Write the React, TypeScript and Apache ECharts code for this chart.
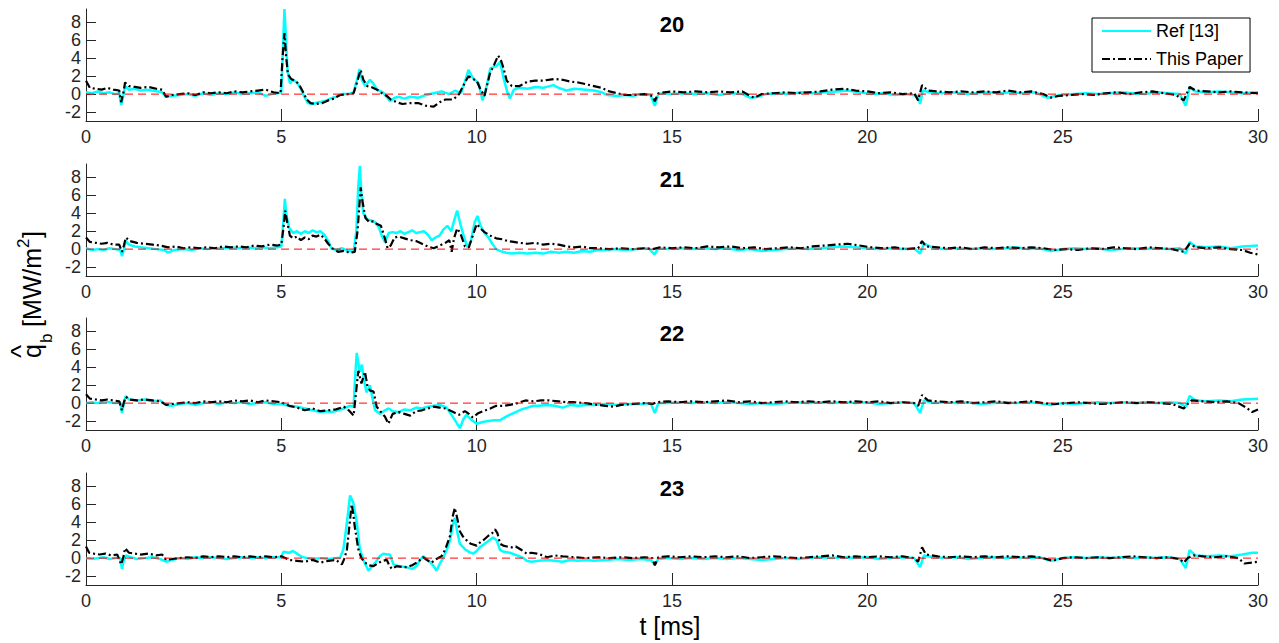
import React, { useEffect, useRef } from "react";
import * as echarts from "echarts";

// ---------- data (t [ms], q_b [MW/m^2]) ----------
const panelTitles = ["20", "21", "22", "23"];
const xTicks = [0, 5, 10, 15, 20, 25, 30];
const yTicks = [-2, 0, 2, 4, 6, 8];
const zeroLine = [[0, 0], [30, 0]];

const ref20 = [[0,0.2],[0.15,0.1],[0.3,0.3],[0.45,0.1],[0.6,0.2],[0.75,0.0],[0.85,0.1],[0.9,-1.2],[0.95,-0.3],[1.0,0.9],[1.1,0.5],[1.25,0.6],[1.4,0.4],[1.55,0.5],[1.7,0.4],[1.85,0.3],[1.95,0.2],[2.05,-0.3],[2.2,-0.2],[2.4,-0.1],[2.6,0.0],[2.8,-0.2],[3.0,0.1],[3.2,-0.1],[3.4,0.1],[3.6,0.0],[3.8,0.2],[4.0,0.0],[4.2,0.1],[4.4,0.2],[4.6,-0.2],[4.75,0.0],[4.9,0.1],[5.0,0.2],[5.04,5.0],[5.08,9.5],[5.12,6.0],[5.16,2.5],[5.22,1.2],[5.3,1.6],[5.4,1.3],[5.5,0.6],[5.58,-0.2],[5.68,-1.0],[5.8,-1.1],[5.95,-0.9],[6.1,-0.8],[6.25,-0.5],[6.4,-0.3],[6.55,0.0],[6.7,0.0],[6.85,0.2],[6.95,1.8],[7.0,2.8],[7.07,1.5],[7.15,0.9],[7.27,1.6],[7.35,1.2],[7.45,0.5],[7.6,0.2],[7.7,-0.3],[7.78,-0.8],[7.9,-0.4],[8.0,-0.3],[8.15,-0.5],[8.3,-0.3],[8.5,-0.4],[8.7,-0.1],[8.9,0.1],[9.1,0.3],[9.3,0.0],[9.45,0.4],[9.6,0.1],[9.7,1.4],[9.79,2.7],[9.9,1.8],[10.05,1.2],[10.15,-0.7],[10.25,0.8],[10.35,2.9],[10.5,3.1],[10.6,3.6],[10.7,1.6],[10.78,0.3],[10.85,-0.5],[10.95,0.5],[11.1,0.7],[11.3,0.6],[11.5,0.8],[11.7,0.7],[11.96,1.0],[12.1,0.7],[12.3,0.4],[12.5,0.6],[12.8,0.5],[13.0,0.4],[13.2,0.2],[13.35,-0.1],[13.6,-0.2],[13.8,-0.1],[14.0,-0.2],[14.2,0.0],[14.45,-0.1],[14.56,-1.3],[14.65,0.0],[14.8,0.1],[15.0,0.0],[15.3,0.1],[15.6,0.0],[15.9,0.1],[16.2,-0.1],[16.5,0.1],[16.8,0.0],[17.0,-0.4],[17.2,-0.3],[17.4,0.0],[17.7,0.1],[18.0,0.0],[18.3,0.2],[18.6,0.1],[18.9,0.2],[19.2,0.3],[19.5,0.4],[19.8,0.2],[20.1,0.0],[20.4,0.1],[20.7,-0.1],[21.0,0.0],[21.3,-0.2],[21.35,-1.1],[21.42,0.4],[21.6,0.2],[21.9,0.1],[22.2,0.2],[22.5,0.0],[22.8,0.1],[23.1,0.2],[23.4,0.1],[23.7,0.2],[24.0,0.1],[24.3,0.2],[24.6,-0.4],[24.8,-0.2],[25.0,-0.1],[25.3,0.0],[25.6,0.1],[25.9,0.0],[26.2,0.1],[26.5,0.2],[26.8,0.1],[27.1,0.0],[27.4,0.2],[27.7,0.1],[28.0,0.0],[28.15,-1.3],[28.25,0.8],[28.4,0.3],[28.7,0.2],[29.0,0.3],[29.3,0.2],[29.6,0.1],[30.0,0.2]];
const pap20 = [[0,1.5],[0.1,0.7],[0.25,0.6],[0.4,0.5],[0.55,0.7],[0.7,0.5],[0.85,0.4],[0.9,-0.9],[0.96,0.2],[1.0,1.3],[1.1,0.9],[1.25,0.8],[1.4,0.7],[1.6,0.8],[1.8,0.6],[1.95,0.5],[2.05,-0.3],[2.2,-0.1],[2.4,0.0],[2.6,0.1],[2.8,-0.1],[3.0,0.2],[3.2,0.1],[3.4,0.2],[3.6,0.1],[3.8,0.3],[4.0,0.2],[4.2,0.3],[4.4,0.4],[4.6,0.5],[4.8,0.2],[4.98,0.1],[5.03,4.0],[5.08,6.8],[5.12,4.3],[5.17,2.2],[5.25,1.7],[5.35,1.5],[5.45,1.1],[5.55,0.3],[5.65,-0.6],[5.75,-1.0],[5.9,-1.1],[6.05,-1.0],[6.2,-0.7],[6.35,-0.5],[6.5,-0.1],[6.7,0.0],[6.85,0.1],[6.95,1.5],[7.03,2.7],[7.1,1.6],[7.2,0.9],[7.3,0.8],[7.45,0.5],[7.6,0.0],[7.7,-0.2],[7.8,-0.6],[7.95,-0.9],[8.1,-1.1],[8.3,-1.0],[8.5,-1.0],[8.7,-1.3],[8.9,-1.4],[9.05,-0.9],[9.2,-0.6],[9.4,-0.6],[9.55,0.0],[9.7,1.3],[9.79,2.0],[9.9,1.7],[10.0,1.5],[10.1,0.5],[10.2,-0.2],[10.34,2.3],[10.45,3.3],[10.55,4.3],[10.62,3.8],[10.68,3.0],[10.77,1.5],[10.9,0.9],[11.1,0.9],[11.3,1.4],[11.5,1.5],[11.7,1.5],[12.0,1.7],[12.2,1.6],[12.4,1.4],[12.6,1.3],[12.8,1.1],[13.0,0.9],[13.2,0.7],[13.4,0.3],[13.6,0.1],[13.8,-0.1],[14.0,-0.1],[14.3,0.0],[14.5,-0.2],[14.56,-0.8],[14.65,0.1],[14.8,0.2],[15.0,0.3],[15.3,0.2],[15.6,0.3],[15.9,0.2],[16.2,0.3],[16.5,0.2],[16.8,0.3],[17.0,-0.2],[17.1,-0.4],[17.3,0.0],[17.6,0.1],[17.9,0.2],[18.2,0.1],[18.5,0.2],[18.8,0.3],[19.1,0.5],[19.4,0.6],[19.7,0.4],[20.0,0.3],[20.3,0.1],[20.6,0.2],[20.9,0.0],[21.2,0.1],[21.3,-0.7],[21.4,1.0],[21.55,0.4],[21.8,0.3],[22.1,0.2],[22.4,0.3],[22.7,0.2],[23.0,0.3],[23.3,0.2],[23.6,0.4],[23.9,0.2],[24.2,0.3],[24.5,0.0],[24.7,-0.4],[24.9,-0.2],[25.2,-0.1],[25.5,0.0],[25.8,-0.1],[26.1,0.1],[26.4,0.2],[26.7,0.0],[27.0,0.2],[27.3,0.3],[27.6,0.1],[27.9,-0.1],[28.1,-0.7],[28.25,0.8],[28.4,0.4],[28.7,0.3],[29.0,0.2],[29.3,0.3],[29.6,0.2],[30.0,0.1]];

const ref21 = [[0,0.1],[0.15,-0.1],[0.3,0.0],[0.45,-0.1],[0.6,0.1],[0.75,0.0],[0.88,-0.1],[0.92,-0.8],[0.97,0.0],[1.02,0.9],[1.1,0.5],[1.25,0.3],[1.4,0.2],[1.6,0.1],[1.8,0.0],[2.0,-0.1],[2.1,-0.4],[2.25,-0.1],[2.5,0.0],[2.7,-0.1],[2.9,0.1],[3.1,0.0],[3.3,0.1],[3.5,0.1],[3.7,0.2],[3.9,0.1],[4.1,0.2],[4.3,0.1],[4.5,0.2],[4.7,0.1],[4.9,0.2],[5.0,0.3],[5.05,3.0],[5.09,5.6],[5.13,3.8],[5.2,2.4],[5.3,1.8],[5.4,2.0],[5.5,1.7],[5.6,2.0],[5.7,1.8],[5.8,2.1],[5.9,1.9],[6.0,2.0],[6.1,1.6],[6.2,0.9],[6.28,0.1],[6.4,-0.1],[6.55,0.1],[6.7,-0.2],[6.85,-0.3],[6.92,2.0],[6.97,7.0],[7.01,9.3],[7.05,6.0],[7.1,4.0],[7.2,3.3],[7.3,3.2],[7.4,3.0],[7.5,2.4],[7.57,1.5],[7.65,0.8],[7.75,1.8],[7.85,1.9],[7.95,1.8],[8.05,2.0],[8.15,1.7],[8.25,1.9],[8.35,2.1],[8.45,1.8],[8.55,1.9],[8.65,2.0],[8.75,1.6],[8.85,1.0],[8.95,1.3],[9.05,1.5],[9.15,2.2],[9.25,2.6],[9.35,2.0],[9.43,3.3],[9.5,4.3],[9.6,2.5],[9.7,1.0],[9.77,0.2],[9.85,0.9],[9.95,3.0],[10.02,3.7],[10.1,2.6],[10.2,1.8],[10.3,1.3],[10.4,0.6],[10.5,0.0],[10.6,-0.2],[10.75,-0.4],[10.9,-0.5],[11.1,-0.4],[11.3,-0.5],[11.5,-0.4],[11.7,-0.5],[11.9,-0.3],[12.1,-0.4],[12.3,-0.3],[12.5,-0.4],[12.7,-0.2],[12.9,-0.3],[13.1,-0.1],[13.3,-0.1],[13.5,0.0],[13.8,-0.1],[14.1,0.0],[14.4,0.1],[14.55,-0.6],[14.65,0.1],[14.9,0.0],[15.2,0.1],[15.5,0.0],[15.8,0.1],[16.1,0.0],[16.4,0.1],[16.7,-0.1],[17.0,0.0],[17.3,-0.2],[17.6,-0.1],[17.9,0.0],[18.2,0.1],[18.5,0.0],[18.8,0.1],[19.1,0.2],[19.4,0.3],[19.7,0.2],[20.0,0.1],[20.3,0.0],[20.6,0.1],[20.9,0.0],[21.2,0.1],[21.35,-0.5],[21.45,0.6],[21.7,0.1],[22.0,0.0],[22.3,0.1],[22.6,0.0],[22.9,0.1],[23.2,0.0],[23.5,0.1],[23.8,0.2],[24.1,0.0],[24.4,0.1],[24.7,-0.2],[25.0,0.0],[25.3,0.1],[25.6,0.0],[25.9,0.1],[26.2,-0.1],[26.5,0.0],[26.8,0.1],[27.1,0.0],[27.4,0.1],[27.7,0.0],[28.0,0.1],[28.15,-0.5],[28.25,0.8],[28.4,0.3],[28.7,0.2],[29.0,0.3],[29.3,0.1],[29.6,0.3],[30.0,0.4]];
const pap21 = [[0,1.3],[0.1,0.8],[0.25,0.7],[0.4,0.6],[0.55,0.7],[0.7,0.5],[0.85,0.5],[0.92,-0.3],[0.97,0.4],[1.02,1.3],[1.12,0.9],[1.3,0.7],[1.5,0.6],[1.7,0.5],[1.9,0.4],[2.1,0.2],[2.3,0.3],[2.5,0.1],[2.7,0.2],[2.9,0.1],[3.1,0.2],[3.3,0.1],[3.5,0.3],[3.7,0.2],[3.9,0.3],[4.1,0.2],[4.3,0.4],[4.5,0.3],[4.7,0.5],[4.9,0.4],[5.0,0.5],[5.05,2.2],[5.1,4.3],[5.15,3.0],[5.22,1.5],[5.3,1.2],[5.4,1.4],[5.5,1.0],[5.6,1.3],[5.7,1.1],[5.8,1.5],[5.9,1.4],[6.0,1.6],[6.1,1.2],[6.2,0.6],[6.3,0.1],[6.45,-0.3],[6.6,-0.2],[6.75,-0.4],[6.88,-0.3],[6.95,2.0],[7.0,5.0],[7.03,6.9],[7.08,5.3],[7.15,3.5],[7.25,3.0],[7.35,3.1],[7.45,2.8],[7.55,2.6],[7.65,1.2],[7.72,0.1],[7.8,0.4],[7.9,1.3],[8.0,1.4],[8.15,1.2],[8.3,1.0],[8.45,0.9],[8.6,0.6],[8.75,0.3],[8.9,0.1],[9.05,0.4],[9.2,0.7],[9.3,1.0],[9.36,-0.3],[9.42,1.2],[9.5,2.3],[9.58,1.8],[9.7,0.3],[9.8,0.2],[9.9,1.5],[10.0,2.8],[10.1,2.3],[10.2,1.9],[10.35,1.5],[10.5,1.2],[10.65,1.1],[10.8,0.9],[10.95,0.8],[11.1,0.7],[11.3,0.6],[11.5,0.7],[11.7,0.5],[11.9,0.6],[12.1,0.5],[12.3,0.3],[12.5,0.2],[12.7,0.3],[12.9,0.1],[13.1,0.1],[13.4,0.0],[13.7,0.1],[14.0,0.0],[14.3,0.1],[14.5,0.0],[14.7,0.2],[15.0,0.1],[15.3,0.2],[15.6,0.1],[15.9,0.3],[16.2,0.2],[16.5,0.3],[16.8,0.1],[17.1,0.2],[17.4,0.0],[17.7,0.1],[18.0,0.2],[18.3,0.1],[18.6,0.3],[18.9,0.4],[19.2,0.5],[19.5,0.6],[19.8,0.4],[20.1,0.2],[20.4,0.1],[20.7,0.2],[21.0,0.0],[21.3,0.1],[21.4,0.9],[21.5,0.3],[21.8,0.2],[22.1,0.1],[22.4,0.2],[22.7,0.0],[23.0,0.2],[23.3,0.1],[23.6,0.2],[23.9,0.1],[24.2,0.2],[24.5,0.1],[24.8,-0.1],[25.1,0.0],[25.4,-0.1],[25.7,0.1],[26.0,0.0],[26.3,0.2],[26.6,0.1],[26.9,0.0],[27.2,0.2],[27.5,0.1],[27.8,0.0],[28.1,-0.3],[28.25,0.6],[28.4,0.2],[28.7,0.1],[29.0,0.2],[29.3,0.0],[29.6,-0.1],[29.8,-0.4],[30.0,-0.6]];

const ref22 = [[0,0.0],[0.15,0.1],[0.3,0.0],[0.45,0.2],[0.6,0.1],[0.75,0.0],[0.88,0.1],[0.92,-1.1],[0.97,0.0],[1.02,0.8],[1.1,0.4],[1.3,0.3],[1.5,0.4],[1.7,0.2],[1.9,0.3],[2.05,-0.2],[2.2,-0.3],[2.4,-0.1],[2.6,0.0],[2.8,-0.2],[3.0,0.0],[3.2,0.1],[3.4,-0.1],[3.6,0.1],[3.8,0.0],[4.0,0.1],[4.2,-0.1],[4.4,0.0],[4.6,0.1],[4.8,-0.1],[5.0,-0.1],[5.2,-0.3],[5.4,-0.4],[5.6,-0.6],[5.8,-0.8],[6.0,-1.0],[6.15,-0.9],[6.3,-1.0],[6.45,-0.8],[6.6,-0.6],[6.75,-0.3],[6.85,-0.4],[6.89,3.0],[6.93,5.6],[6.97,4.5],[7.01,3.5],[7.06,4.3],[7.12,2.5],[7.18,1.2],[7.27,2.0],[7.33,0.6],[7.4,-0.8],[7.53,-1.2],[7.65,-0.8],[7.75,-0.6],[7.85,-0.9],[8.0,-1.0],[8.15,-0.7],[8.3,-0.8],[8.45,-0.5],[8.6,-0.6],[8.75,-0.4],[8.9,-0.3],[9.06,-0.2],[9.23,-0.5],[9.4,-1.6],[9.57,-2.8],[9.66,-1.8],[9.74,-1.3],[9.85,-1.8],[10.0,-2.3],[10.15,-2.1],[10.3,-2.0],[10.45,-1.9],[10.6,-1.9],[10.8,-1.4],[11.0,-1.0],[11.15,-0.7],[11.3,-0.5],[11.45,-0.3],[11.6,-0.3],[11.8,-0.2],[12.0,-0.3],[12.2,-0.5],[12.4,-0.2],[12.6,-0.3],[12.8,-0.2],[13.0,-0.2],[13.3,-0.1],[13.6,-0.2],[13.9,-0.1],[14.2,-0.1],[14.45,0.0],[14.56,-1.1],[14.65,0.0],[14.9,0.0],[15.2,0.1],[15.5,0.0],[15.8,0.1],[16.1,0.0],[16.4,0.1],[16.7,0.0],[17.0,-0.1],[17.3,0.0],[17.6,-0.1],[17.9,0.0],[18.2,0.1],[18.5,0.0],[18.8,0.1],[19.1,0.0],[19.4,0.1],[19.7,0.0],[20.0,0.1],[20.3,-0.1],[20.6,0.0],[20.9,0.1],[21.2,0.0],[21.35,-1.1],[21.45,0.3],[21.7,0.0],[22.0,0.1],[22.3,0.0],[22.6,0.1],[22.9,-0.1],[23.2,0.0],[23.5,0.1],[23.8,0.0],[24.1,0.1],[24.4,0.0],[24.7,-0.2],[25.0,0.0],[25.3,-0.1],[25.6,0.0],[25.9,0.1],[26.2,0.0],[26.5,0.1],[26.8,0.0],[27.1,0.1],[27.4,0.0],[27.7,0.1],[28.0,0.0],[28.15,-0.4],[28.25,0.8],[28.4,0.3],[28.7,0.2],[29.0,0.3],[29.3,0.2],[29.6,0.4],[30.0,0.5]];
const pap22 = [[0,1.0],[0.1,0.5],[0.25,0.4],[0.4,0.3],[0.55,0.4],[0.7,0.3],[0.85,0.2],[0.92,-0.8],[0.97,0.1],[1.02,0.7],[1.12,0.4],[1.3,0.3],[1.5,0.4],[1.7,0.3],[1.9,0.2],[2.05,-0.2],[2.2,-0.1],[2.4,0.0],[2.6,0.1],[2.8,0.0],[3.0,0.2],[3.2,0.1],[3.4,0.2],[3.6,0.1],[3.8,0.3],[4.0,0.2],[4.2,0.3],[4.4,0.1],[4.6,0.3],[4.8,0.2],[5.0,0.1],[5.2,-0.3],[5.4,-0.5],[5.6,-0.8],[5.8,-0.6],[6.0,-0.9],[6.2,-0.8],[6.4,-0.7],[6.6,-0.4],[6.75,-0.9],[6.85,-1.4],[6.92,1.5],[6.97,3.6],[7.05,2.2],[7.14,3.5],[7.2,2.0],[7.27,1.4],[7.36,1.3],[7.44,-0.4],[7.55,-1.0],[7.65,-1.5],[7.74,-2.3],[7.85,-1.2],[8.0,-1.0],[8.15,-1.2],[8.3,-1.4],[8.45,-0.9],[8.6,-0.8],[8.75,-0.6],[8.9,-0.4],[9.05,-0.5],[9.2,-0.6],[9.4,-1.0],[9.55,-1.3],[9.7,-0.9],[9.8,-1.2],[9.9,-1.6],[10.05,-1.1],[10.17,-0.9],[10.35,-0.6],[10.5,-0.3],[10.7,-0.3],[10.85,-0.2],[11.05,0.0],[11.25,0.3],[11.45,0.2],[11.65,0.3],[11.85,0.3],[12.1,0.2],[12.3,0.1],[12.5,0.1],[12.8,0.0],[13.1,-0.2],[13.3,-0.3],[13.5,-0.4],[13.7,-0.2],[14.0,-0.1],[14.3,0.0],[14.5,-0.1],[14.6,0.1],[14.9,0.2],[15.2,0.1],[15.5,0.2],[15.8,0.1],[16.1,0.2],[16.4,0.3],[16.7,0.1],[17.0,0.2],[17.3,0.0],[17.6,0.1],[17.9,0.2],[18.2,0.1],[18.5,0.2],[18.8,0.1],[19.1,0.2],[19.4,0.1],[19.7,0.2],[20.0,0.1],[20.3,0.2],[20.6,0.0],[20.9,0.1],[21.2,0.0],[21.3,-0.3],[21.4,0.9],[21.55,0.3],[21.8,0.2],[22.1,0.1],[22.4,0.2],[22.7,0.0],[23.0,0.1],[23.3,0.2],[23.6,0.0],[23.9,0.1],[24.2,0.2],[24.5,0.0],[24.8,-0.1],[25.1,0.0],[25.4,0.1],[25.7,0.0],[26.0,-0.1],[26.3,0.0],[26.6,0.1],[26.9,0.0],[27.2,0.1],[27.5,0.0],[27.8,-0.1],[28.1,-0.6],[28.2,-0.1],[28.3,0.3],[28.6,0.2],[28.9,0.1],[29.2,0.2],[29.5,0.0],[29.7,-0.5],[29.85,-1.0],[30.0,-0.7]];

const ref23 = [[0,0.0],[0.15,-0.1],[0.3,0.0],[0.45,0.1],[0.6,-0.1],[0.75,0.0],[0.88,0.0],[0.92,-1.2],[0.97,-0.2],[1.02,0.3],[1.15,0.1],[1.3,-0.1],[1.5,0.0],[1.7,0.1],[1.9,-0.1],[2.05,-0.4],[2.2,-0.2],[2.4,0.0],[2.6,-0.1],[2.8,0.1],[3.0,0.0],[3.2,0.1],[3.4,0.0],[3.6,-0.1],[3.8,0.0],[4.0,0.1],[4.2,0.0],[4.4,0.1],[4.6,0.0],[4.8,0.1],[5.0,0.1],[5.05,0.7],[5.2,0.6],[5.3,0.8],[5.4,0.5],[5.5,0.2],[5.65,0.0],[5.8,-0.1],[6.0,0.0],[6.2,-0.1],[6.4,0.0],[6.5,0.0],[6.59,1.0],[6.68,4.0],[6.76,7.0],[6.84,6.2],[6.93,4.0],[7.01,1.0],[7.1,-0.2],[7.23,-1.4],[7.33,-0.9],[7.44,-0.3],[7.52,0.2],[7.61,0.5],[7.7,0.4],[7.78,0.4],[7.87,-0.7],[8.0,-0.9],[8.2,-1.0],[8.35,-1.2],[8.46,-0.9],[8.55,-0.2],[8.63,0.2],[8.72,-0.1],[8.8,-0.4],[8.9,-0.9],[8.97,-1.4],[9.06,-0.6],[9.14,0.0],[9.24,1.0],[9.32,2.0],[9.38,3.5],[9.44,4.5],[9.5,3.0],[9.57,1.6],[9.7,1.0],[9.8,0.7],[9.91,0.5],[10.0,0.8],[10.08,1.2],[10.17,1.5],[10.3,1.9],[10.42,2.3],[10.51,2.0],[10.6,0.9],[10.7,0.7],[10.85,0.6],[10.97,0.4],[11.1,0.2],[11.2,0.0],[11.28,-0.3],[11.4,-0.4],[11.6,-0.3],[11.8,-0.2],[12.0,-0.3],[12.2,-0.4],[12.4,-0.2],[12.6,-0.3],[12.8,-0.2],[13.0,-0.3],[13.3,-0.2],[13.6,-0.1],[13.9,-0.2],[14.2,-0.1],[14.45,-0.2],[14.56,-0.7],[14.65,-0.1],[14.9,0.0],[15.2,-0.1],[15.5,0.0],[15.8,-0.1],[16.1,0.0],[16.4,-0.1],[16.7,0.0],[17.0,-0.1],[17.3,-0.2],[17.6,-0.1],[17.9,0.0],[18.2,-0.1],[18.5,0.0],[18.8,0.1],[19.1,0.0],[19.4,0.1],[19.7,0.0],[20.0,0.1],[20.3,-0.1],[20.6,0.0],[20.9,0.1],[21.2,0.0],[21.35,-1.0],[21.45,0.3],[21.7,0.1],[22.0,0.0],[22.3,0.1],[22.6,-0.1],[22.9,0.0],[23.2,0.1],[23.5,0.0],[23.8,0.1],[24.1,0.0],[24.4,0.1],[24.7,-0.3],[25.0,0.0],[25.3,0.1],[25.6,0.0],[25.9,0.1],[26.2,0.0],[26.5,0.1],[26.8,0.0],[27.1,0.1],[27.4,0.0],[27.7,0.1],[28.0,-0.1],[28.15,-1.1],[28.25,0.9],[28.4,0.3],[28.7,0.2],[29.0,0.3],[29.3,0.2],[29.6,0.4],[29.85,0.6],[30.0,0.6]];
const pap23 = [[0,1.3],[0.08,0.6],[0.2,0.5],[0.35,0.4],[0.5,0.5],[0.65,0.3],[0.8,0.4],[0.9,-0.7],[0.96,0.2],[1.0,1.1],[1.1,0.6],[1.25,0.5],[1.4,0.4],[1.6,0.5],[1.8,0.3],[1.95,0.4],[2.05,-0.2],[2.2,-0.1],[2.4,0.0],[2.6,0.1],[2.8,0.0],[3.0,0.2],[3.2,0.1],[3.4,0.2],[3.6,0.1],[3.8,0.2],[4.0,0.1],[4.2,0.2],[4.4,0.1],[4.6,0.2],[4.8,0.1],[5.0,0.2],[5.2,-0.2],[5.4,-0.3],[5.6,-0.4],[5.8,-0.2],[6.0,-0.5],[6.2,-0.3],[6.4,-0.2],[6.55,-0.7],[6.62,0.0],[6.68,1.0],[6.74,3.5],[6.8,6.0],[6.84,5.0],[6.88,3.5],[6.97,1.0],[7.05,0.0],[7.14,-0.5],[7.25,-0.8],[7.36,-0.9],[7.5,-0.5],[7.6,-0.3],[7.7,-0.2],[7.76,-0.8],[7.83,-1.2],[7.95,-0.9],[8.1,-1.0],[8.2,-1.0],[8.35,-0.8],[8.5,-0.4],[8.63,0.1],[8.72,-0.2],[8.84,-0.5],[8.97,-0.1],[9.1,0.2],[9.2,1.0],[9.32,2.5],[9.38,4.5],[9.44,5.6],[9.5,4.5],[9.57,3.0],[9.65,2.4],[9.74,2.0],[9.85,1.6],[10.0,1.4],[10.1,1.8],[10.17,2.0],[10.3,2.5],[10.4,2.8],[10.47,3.2],[10.53,2.8],[10.6,1.6],[10.68,1.4],[10.77,1.3],[10.9,1.2],[11.0,1.3],[11.15,0.9],[11.28,0.5],[11.4,0.6],[11.54,0.5],[11.7,0.3],[11.8,0.1],[12.0,0.3],[12.2,0.2],[12.5,0.1],[12.8,0.0],[13.1,0.1],[13.4,0.0],[13.7,0.1],[14.0,0.0],[14.3,0.1],[14.5,0.0],[14.56,-0.8],[14.65,0.1],[14.9,0.2],[15.2,0.1],[15.5,0.2],[15.8,0.1],[16.1,0.2],[16.4,0.1],[16.7,0.2],[17.0,0.0],[17.3,0.1],[17.6,0.2],[17.9,0.1],[18.2,0.0],[18.5,0.1],[18.8,0.2],[19.1,0.3],[19.4,0.1],[19.7,0.2],[20.0,0.1],[20.3,0.2],[20.6,0.1],[20.9,0.2],[21.2,0.0],[21.3,-0.4],[21.4,1.2],[21.5,0.4],[21.8,0.2],[22.1,0.1],[22.4,0.2],[22.7,0.1],[23.0,0.2],[23.3,0.1],[23.6,0.2],[23.9,0.1],[24.2,0.2],[24.5,0.0],[24.75,-0.3],[25.0,0.0],[25.3,0.1],[25.6,0.0],[25.9,0.1],[26.2,0.0],[26.5,0.1],[26.8,0.2],[27.1,0.1],[27.4,0.0],[27.7,0.1],[28.0,-0.1],[28.1,-0.5],[28.2,0.0],[28.35,0.3],[28.6,0.2],[28.9,0.1],[29.2,0.2],[29.5,0.0],[29.65,-0.6],[29.85,-0.5],[30.0,-0.4]];

const refSeries = [ref20, ref21, ref22, ref23];
const paperSeries = [pap20, pap21, pap22, pap23];

// ---------- layout / style ----------
const FONT = "'Liberation Sans', Arial, Helvetica, sans-serif";
const GRID_LEFT = 86;
const GRID_WIDTH = 1172;
const GRID_TOPS = [9, 164, 318, 473];
const GRID_HEIGHT = 112;
const AXIS_COLOR = "#262626";

function buildOption() {
  const grid = GRID_TOPS.map((top) => ({ left: GRID_LEFT, top, width: GRID_WIDTH, height: GRID_HEIGHT }));
  const xAxis = GRID_TOPS.map((_, i) => ({
    type: "value",
    gridIndex: i,
    min: 0,
    max: 30,
    interval: 5,
    axisLine: { show: true, onZero: false, lineStyle: { color: AXIS_COLOR, width: 1 } },
    axisTick: { show: true, inside: true, length: 12, lineStyle: { color: AXIS_COLOR } },
    axisLabel: { color: AXIS_COLOR, fontSize: 18, fontFamily: FONT, margin: 7, customValues: xTicks },
    splitLine: { show: false },
  }));
  const yAxis = GRID_TOPS.map((_, i) => ({
    type: "value",
    gridIndex: i,
    min: -3,
    max: 9.5,
    axisLine: { show: true, onZero: false, lineStyle: { color: AXIS_COLOR, width: 1 } },
    axisTick: { show: true, inside: true, length: 10, customValues: yTicks, lineStyle: { color: AXIS_COLOR } },
    axisLabel: { color: AXIS_COLOR, fontSize: 18, fontFamily: FONT, margin: 5, customValues: yTicks },
    splitLine: { show: false },
  }));

  const series: any[] = [];
  panelTitles.forEach((_, i) => {
    series.push({
      name: "Ref [13]",
      type: "line",
      xAxisIndex: i,
      yAxisIndex: i,
      data: refSeries[i],
      symbol: "none",
      showSymbol: false,
      lineStyle: { color: "#00FFFF", width: 2.5 },
      itemStyle: { color: "#00FFFF" },
      z: 2,
    });
    series.push({
      name: "This Paper",
      type: "line",
      xAxisIndex: i,
      yAxisIndex: i,
      data: paperSeries[i],
      symbol: "none",
      showSymbol: false,
      lineStyle: { color: "#000000", width: 2.2, type: [8, 3, 2, 3] },
      itemStyle: { color: "#000000" },
      z: 3,
    });
    series.push({
      name: "zero",
      type: "line",
      xAxisIndex: i,
      yAxisIndex: i,
      data: zeroLine,
      symbol: "none",
      showSymbol: false,
      silent: true,
      lineStyle: { color: "#FF0000", width: 1, type: [8, 5] },
      z: 4,
    });
  });

  const titleTexts = panelTitles.map((t, i) => ({
    type: "text",
    x: GRID_LEFT + GRID_WIDTH / 2,
    y: GRID_TOPS[i] + 15.5,
    style: {
      text: t,
      fontSize: 22,
      fontWeight: "bold",
      fontFamily: FONT,
      fill: "#000",
      textAlign: "center",
      textVerticalAlign: "middle",
    },
  }));

  const txt = (text: string, x: number, y: number, fontSize: number, align = "left") => ({
    type: "text",
    x,
    y,
    style: { text, fontSize, fontFamily: FONT, fill: "#000", textAlign: align, textVerticalAlign: "middle" },
  });

  const yLabel = {
    type: "group",
    x: 32,
    y: 358,
    rotation: Math.PI / 2,
    children: [
      txt("q", 0, 0, 25),
      txt("^", 6.5, -12, 28, "center"),
      txt("b", 15, 14, 17),
      txt("[MW/m", 31, 0, 25),
      txt("2", 110, -9, 17),
      txt("]", 120, 0, 25),
    ],
  };

  const xLabel = txt("t [ms]", 670, 626, 25, "center");

  return {
    animation: false,
    backgroundColor: "#ffffff",
    grid,
    xAxis,
    yAxis,
    legend: {
      data: ["Ref [13]", "This Paper"],
      orient: "vertical",
      left: 1092,
      top: 18,
      padding: [3, 7, 3, 9],
      itemGap: 8,
      itemWidth: 49,
      itemHeight: 14,
      borderColor: "#000",
      borderWidth: 1,
      backgroundColor: "#fff",
      selectedMode: false,
      itemStyle: { opacity: 0 },
      textStyle: { fontSize: 18, fontFamily: FONT, color: "#000", lineHeight: 20 },
    },
    series,
    graphic: { elements: [...titleTexts, yLabel, xLabel] },
  };
}

export default function App() {
  const ref = useRef<HTMLDivElement>(null);
  useEffect(() => {
    if (!ref.current) return;
    const chart = echarts.init(ref.current, undefined, { renderer: "svg" });
    chart.setOption(buildOption() as any);
    return () => chart.dispose();
  }, []);
  return (
    <div
      ref={ref}
      style={{ position: "fixed", left: 0, top: 0, width: 1279, height: 643, background: "#fff" }}
    />
  );
}
